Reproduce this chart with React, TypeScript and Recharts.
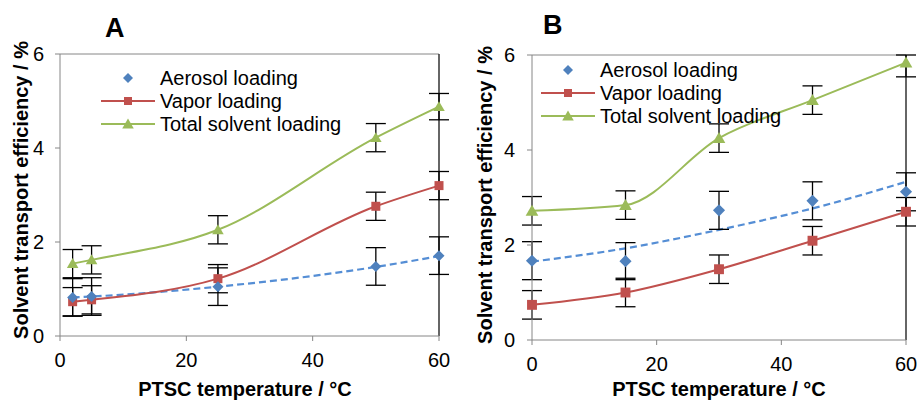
import * as React from "react";
import {
  LineChart,
  Line,
  XAxis,
  YAxis,
  ErrorBar,
  ReferenceLine,
} from "recharts";

// Panel A
const tempA = [2, 5, 25, 50, 60];
const aerosolA = [0.82, 0.84, 1.05, 1.48, 1.71];
const aerosolErrA = [0.4, 0.4, 0.4, 0.4, 0.4];
const aerosolTrendA = [0.82, 0.84, 1.05, 1.47, 1.7];
const vaporA = [0.73, 0.77, 1.22, 2.76, 3.2];
const vaporErrA = [0.3, 0.3, 0.3, 0.3, 0.3];
const totalA = [1.54, 1.62, 2.26, 4.22, 4.88];
const totalErrA = [0.3, 0.3, 0.3, 0.3, 0.28];

// Panel B
const tempB = [0, 15, 30, 45, 60];
const aerosolB = [1.67, 1.66, 2.73, 2.93, 3.12];
const aerosolErrB = [0.4, 0.39, 0.4, 0.4, 0.4];
const aerosolTrendB = [1.65, 1.93, 2.32, 2.77, 3.33];
const vaporB = [0.74, 1.0, 1.49, 2.09, 2.7];
const vaporErrB = [0.3, 0.3, 0.3, 0.3, 0.3];
const totalB = [2.72, 2.84, 4.25, 5.05, 5.84];
const totalErrB = [0.3, 0.3, 0.3, 0.3, 0.3];

const xTicks = [0, 20, 40, 60];
const yTicks = [0, 2, 4, 6];
const Y_MAX = 6;
const seriesNames = ["Aerosol loading", "Vapor loading", "Total solvent loading"];

const FONT = '"Liberation Sans", Arial, sans-serif';
const BLUE = "#4f81bd";
const BLUE_DASH = "#558ed5";
const RED = "#c0504d";
const GREEN = "#9bbb59";
const AXIS = "#868686";

// error bars are cut at the top of the plot, like in the original
const clipErr = (v: number, e: number) => [e, Math.max(0, Math.min(e, Y_MAX - v))];

const buildRows = (
  temp: number[],
  aerosol: number[],
  aerosolErr: number[],
  trend: number[],
  vapor: number[],
  vaporErr: number[],
  total: number[],
  totalErr: number[]
) =>
  temp.map((t, i) => ({
    t,
    aerosol: aerosol[i],
    aerosolErr: clipErr(aerosol[i], aerosolErr[i]),
    trend: trend[i],
    vapor: vapor[i],
    vaporErr: clipErr(vapor[i], vaporErr[i]),
    total: total[i],
    totalErr: clipErr(total[i], totalErr[i]),
  }));

const rowsA = buildRows(tempA, aerosolA, aerosolErrA, aerosolTrendA, vaporA, vaporErrA, totalA, totalErrA);
const rowsB = buildRows(tempB, aerosolB, aerosolErrB, aerosolTrendB, vaporB, vaporErrB, totalB, totalErrB);

const diamondPts = (cx: number, cy: number, r: number) =>
  `${cx},${cy - r} ${cx + r},${cy} ${cx},${cy + r} ${cx - r},${cy}`;
const trianglePts = (cx: number, cy: number, r: number) =>
  `${cx},${cy - r} ${cx + r * 1.05},${cy + r * 0.8} ${cx - r * 1.05},${cy + r * 0.8}`;

const makeDot = (shape: "diamond" | "square" | "triangle", color: string, r: number) =>
  (props: any) => {
    const { cx, cy, index } = props;
    if (cx == null || cy == null) return <g key={`d-${index}`} />;
    if (shape === "diamond")
      return <polygon key={`d-${index}`} points={diamondPts(cx, cy, r)} fill={color} />;
    if (shape === "square")
      return <rect key={`d-${index}`} x={cx - r} y={cy - r} width={r * 2} height={r * 2} fill={color} />;
    return <polygon key={`d-${index}`} points={trianglePts(cx, cy, r)} fill={color} />;
  };

interface PanelProps {
  title: string;
  rows: any[];
  left: number;
  yAxisWidth: number;
  margin: { top: number; right: number; bottom: number; left: number };
  tickMarginY: number;
  markerScale: number;
  titlePos: { x: number; y: number };
  yLabel: { x: number; y: number };
  xLabel: { x: number; y: number };
  legend: { x: number; y: number };
}

function LegendBlock({ x, y }: { x: number; y: number }) {
  const rowGap = 23;
  const shapes: Array<"diamond" | "square" | "triangle"> = ["diamond", "square", "triangle"];
  const colors = [BLUE, RED, GREEN];
  return (
    <>
      {seriesNames.map((name, i) => {
        const cy = y + i * rowGap;
        return (
          <div key={name} style={{ position: "absolute", left: x, top: cy - 12, height: 24, display: "flex", alignItems: "center" }}>
            <svg width={56} height={24} style={{ display: "block" }}>
              {i > 0 && <line x1={1} x2={55} y1={12} y2={12} stroke={colors[i]} strokeWidth={2} />}
              {shapes[i] === "diamond" && <polygon points={diamondPts(28, 12, 5)} fill={colors[i]} />}
              {shapes[i] === "square" && <rect x={24} y={8} width={8} height={8} fill={colors[i]} />}
              {shapes[i] === "triangle" && <polygon points={trianglePts(28, 12, 5.5)} fill={colors[i]} />}
            </svg>
            <span style={{ marginLeft: 4, fontSize: 20, lineHeight: "24px", color: "#000", whiteSpace: "nowrap" }}>{name}</span>
          </div>
        );
      })}
    </>
  );
}

function Panel(p: PanelProps) {
  const s = p.markerScale;
  return (
    <div style={{ position: "absolute", left: p.left, top: 0, width: 460, height: 401 }}>
      <LineChart width={460} height={401} data={p.rows} margin={p.margin}>
        <XAxis
          dataKey="t"
          type="number"
          domain={[0, 60]}
          ticks={xTicks}
          height={30}
          tickSize={5}
          tickMargin={12}
          axisLine={{ stroke: AXIS }}
          tickLine={{ stroke: AXIS }}
          tick={{ fill: "#000", fontSize: 20, fontFamily: FONT }}
        />
        <YAxis
          type="number"
          domain={[0, Y_MAX]}
          ticks={yTicks}
          width={p.yAxisWidth}
          allowDataOverflow
          tickSize={5}
          tickMargin={p.tickMarginY}
          axisLine={{ stroke: AXIS }}
          tickLine={{ stroke: AXIS }}
          tick={{ fill: "#000", fontSize: 20, fontFamily: FONT }}
        />
        <ReferenceLine y={Y_MAX} stroke={AXIS} strokeWidth={1} />
        <ReferenceLine x={60} stroke="#333" strokeWidth={1.5} />
        <Line
          dataKey="trend"
          type="monotone"
          stroke={BLUE_DASH}
          strokeWidth={2.2}
          strokeDasharray="7 4"
          dot={false}
          activeDot={false}
          isAnimationActive={false}
        />
        <Line
          dataKey="vapor"
          type="monotone"
          stroke={RED}
          strokeWidth={2}
          dot={makeDot("square", RED, 4.5 * s)}
          activeDot={false}
          isAnimationActive={false}
        >
          <ErrorBar dataKey="vaporErr" direction="y" width={10} stroke="#000" strokeWidth={1.3} />
        </Line>
        <Line
          dataKey="total"
          type="monotone"
          stroke={GREEN}
          strokeWidth={2}
          dot={makeDot("triangle", GREEN, 5.5 * s)}
          activeDot={false}
          isAnimationActive={false}
        >
          <ErrorBar dataKey="totalErr" direction="y" width={10} stroke="#000" strokeWidth={1.3} />
        </Line>
        <Line
          dataKey="aerosol"
          stroke="none"
          dot={makeDot("diamond", BLUE, 5.5 * s)}
          activeDot={false}
          isAnimationActive={false}
        >
          <ErrorBar dataKey="aerosolErr" direction="y" width={10} stroke="#000" strokeWidth={1.3} />
        </Line>
      </LineChart>
      <div style={{ position: "absolute", left: p.titlePos.x, top: p.titlePos.y, fontSize: 27, fontWeight: 700, lineHeight: "30px" }}>
        {p.title}
      </div>
      <div
        style={{
          position: "absolute",
          left: p.yLabel.x,
          top: p.yLabel.y,
          transform: "translate(-50%, -50%) rotate(-90deg)",
          fontSize: 20,
          fontWeight: 700,
          whiteSpace: "nowrap",
          lineHeight: "24px",
        }}
      >
        Solvent transport efficiency / %
      </div>
      <div
        style={{
          position: "absolute",
          left: p.xLabel.x,
          top: p.xLabel.y,
          transform: "translateX(-50%)",
          fontSize: 20,
          fontWeight: 700,
          whiteSpace: "nowrap",
          lineHeight: "22px",
        }}
      >
        PTSC temperature / °C
      </div>
      <LegendBlock x={p.legend.x} y={p.legend.y} />
    </div>
  );
}

export default function App() {
  return (
    <div style={{ position: "absolute", left: 0, top: 0, width: 919, height: 401, background: "#fff", fontFamily: FONT, overflow: "hidden" }}>
      <Panel
        title="A"
        rows={rowsA}
        left={0}
        yAxisWidth={60}
        margin={{ top: 54, right: 21, bottom: 35, left: 0 }}
        tickMarginY={11}
        markerScale={1}
        titlePos={{ x: 105, y: 13 }}
        yLabel={{ x: 21, y: 190 }}
        xLabel={{ x: 245, y: 378 }}
        legend={{ x: 100, y: 78 }}
      />
      <Panel
        title="B"
        rows={rowsB}
        left={459}
        yAxisWidth={73}
        margin={{ top: 55, right: 13, bottom: 31, left: 0 }}
        tickMarginY={12}
        markerScale={1.1}
        titlePos={{ x: 84, y: 10 }}
        yLabel={{ x: 26, y: 195 }}
        xLabel={{ x: 260, y: 378 }}
        legend={{ x: 81, y: 70 }}
      />
    </div>
  );
}
